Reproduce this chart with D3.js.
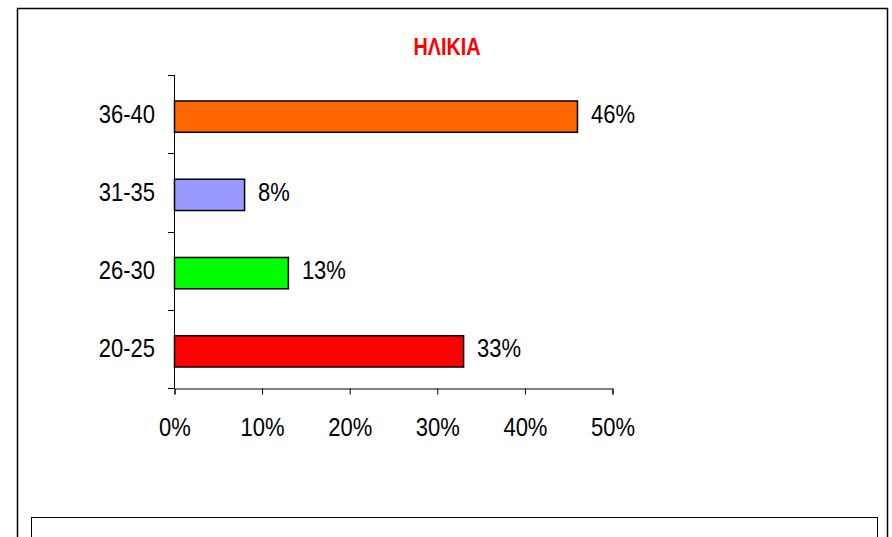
<!DOCTYPE html>
<html>
<head>
<meta charset="utf-8">
<script src="https://cdn.jsdelivr.net/npm/d3@7"></script>
<style>
  body { margin: 0; background: #fff; }
  svg text { font-family: "Liberation Sans", Arial, sans-serif; }
</style>
</head>
<body>
<div id="chart"></div>
<script>
  // data
  var ageGroups = ["36-40", "31-35", "26-30", "20-25"];
  var shares = [0.46, 0.08, 0.13, 0.33];
  var barColors = ["#FF6600", "#9999FF", "#00FF00", "#FF0000"];
  var xTicks = [0, 0.1, 0.2, 0.3, 0.4, 0.5];

  var width = 892, height = 537;
  var squeeze = 0.88; // the original font is a bit narrower

  var svg = d3.select("#chart").append("svg")
    .attr("width", width)
    .attr("height", height);

  // outer chart frame and the empty box under it
  svg.append("rect")
    .attr("x", 17.5).attr("y", 8.5)
    .attr("width", 870).attr("height", 540)
    .attr("fill", "none").attr("stroke", "#000").attr("stroke-width", 1.5);

  svg.append("rect")
    .attr("x", 31.5).attr("y", 517.5)
    .attr("width", 846).attr("height", 40)
    .attr("fill", "none").attr("stroke", "#000").attr("stroke-width", 1);

  svg.append("text")
    .attr("transform", "translate(447,55) scale(0.86,1)")
    .attr("text-anchor", "middle")
    .attr("fill", "#FF0000")
    .style("font-size", "23px")
    .style("font-weight", "bold")
    .text("ΗΛΙΚΙΑ");

  var plotLeft = 174, plotTop = 75, plotRight = 612, plotBottom = 388;

  var x = d3.scaleLinear()
    .domain([0, 0.5])
    .range([plotLeft, plotRight]);

  // bars sit a little below the middle of their slot in the original
  var y = d3.scaleBand()
    .domain(ageGroups)
    .range([plotTop + 2.5, plotBottom + 2.5])
    .paddingInner(0.6)
    .paddingOuter(0.3);

  // y axis, ticks sit between categories
  var yBounds = d3.range(ageGroups.length + 1).map(function (i) {
    return plotTop + i * (plotBottom - plotTop) / ageGroups.length;
  });
  svg.append("line")
    .attr("x1", plotLeft + 0.5).attr("x2", plotLeft + 0.5)
    .attr("y1", plotTop).attr("y2", plotBottom)
    .attr("stroke", "#000");
  svg.selectAll(".ytick")
    .data(yBounds)
    .enter().append("line")
    .attr("class", "ytick")
    .attr("x1", plotLeft - 6).attr("x2", plotLeft + 0.5)
    .attr("y1", function (d) { return Math.round(d) + 0.5; })
    .attr("y2", function (d) { return Math.round(d) + 0.5; })
    .attr("stroke", "#000");

  var xAxis = svg.append("g")
    .attr("transform", "translate(0.5," + (plotBottom + 0.5) + ")")
    .call(d3.axisBottom(x)
      .tickValues(xTicks)
      .tickFormat(d3.format(".0%"))
      .tickSize(6)
      .tickPadding(24));
  xAxis.select(".domain").attr("stroke", "#000");
  xAxis.selectAll("text")
    .attr("transform", "scale(" + squeeze + ",1)")
    .style("font-size", "25px")
    .attr("fill", "#000");

  svg.selectAll(".bar")
    .data(shares)
    .enter().append("rect")
    .attr("class", "bar")
    .attr("x", x(0) + 0.5)
    .attr("y", function (d, i) { return y(ageGroups[i]); })
    .attr("width", function (d) { return x(d) - x(0); })
    .attr("height", y.bandwidth())
    .attr("fill", function (d, i) { return barColors[i]; })
    .attr("stroke", "#000")
    .attr("stroke-width", 1.5);

  svg.selectAll(".cat")
    .data(ageGroups)
    .enter().append("text")
    .attr("class", "cat")
    .attr("transform", function (d) {
      return "translate(" + (plotLeft - 19) + "," + (y(d) + y.bandwidth() / 2 + 6) + ") scale(" + squeeze + ",1)";
    })
    .attr("text-anchor", "end")
    .style("font-size", "25px")
    .text(function (d) { return d; });

  svg.selectAll(".val")
    .data(shares)
    .enter().append("text")
    .attr("class", "val")
    .attr("transform", function (d, i) {
      return "translate(" + (x(d) + 14) + "," + (y(ageGroups[i]) + y.bandwidth() / 2 + 6) + ") scale(" + squeeze + ",1)";
    })
    .style("font-size", "25px")
    .text(function (d) { return d3.format(".0%")(d); });
</script>
</body>
</html>
